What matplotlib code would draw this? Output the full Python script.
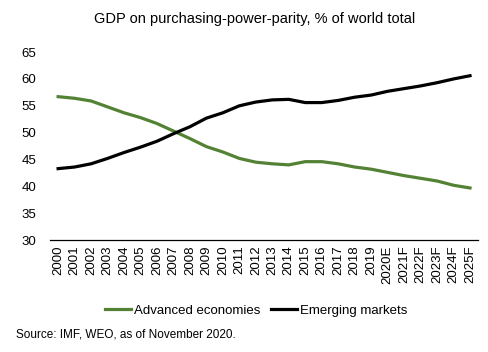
import matplotlib
matplotlib.use("Agg")
import matplotlib.pyplot as plt

years = [str(y) for y in range(2000, 2020)] + ["2020E", "2021F", "2022F", "2023F", "2024F", "2025F"]
advanced = [56.7, 56.4, 55.9, 54.8, 53.7, 52.8, 51.7, 50.3, 48.9, 47.4, 46.4, 45.2,
            44.5, 44.2, 44.0, 44.6, 44.6, 44.2, 43.6, 43.2, 42.6, 42.0, 41.5, 41.0, 40.2, 39.7]
emerging = [43.3, 43.6, 44.2, 45.2, 46.3, 47.3, 48.4, 49.8, 51.1, 52.7, 53.7, 55.0,
            55.7, 56.1, 56.2, 55.6, 55.6, 56.0, 56.6, 57.0, 57.7, 58.2, 58.7, 59.3, 60.0, 60.6]

plt.rcParams["font.family"] = ["Liberation Sans", "DejaVu Sans"]

fig = plt.figure(figsize=(4.89, 3.52), dpi=100)
ax = fig.add_axes([0.102, 0.318, 0.876, 0.534])

x = range(len(years))
ax.plot(x, advanced, color="#548235", lw=2.3, label="Advanced economies")
ax.plot(x, emerging, color="black", lw=2.3, label="Emerging markets")

ax.set_xlim(-0.5, len(years) - 0.5)
ax.set_ylim(30, 65)
ax.set_yticks(range(30, 70, 5))
ax.set_xticks(list(x))
ax.set_xticklabels(years, rotation=90, fontsize=9.5)
ax.tick_params(axis="y", labelsize=9.5, length=0, pad=10)
ax.tick_params(axis="x", length=0, pad=4)
for s in ["top", "right", "left"]:
    ax.spines[s].set_visible(False)
ax.spines["bottom"].set_linewidth(0.9)

fig.text(0.52, 0.935, "GDP on purchasing-power-parity, % of world total",
         ha="center", fontsize=10.5)
fig.legend(loc="center", bbox_to_anchor=(0.523, 0.118), ncol=2, frameon=False,
           fontsize=9.5, handlelength=2.0, handletextpad=0.2, columnspacing=0.8)
fig.text(0.033, 0.04, "Source: IMF, WEO, as of November 2020.", fontsize=8.5)

fig.savefig("out.png", dpi=100)
